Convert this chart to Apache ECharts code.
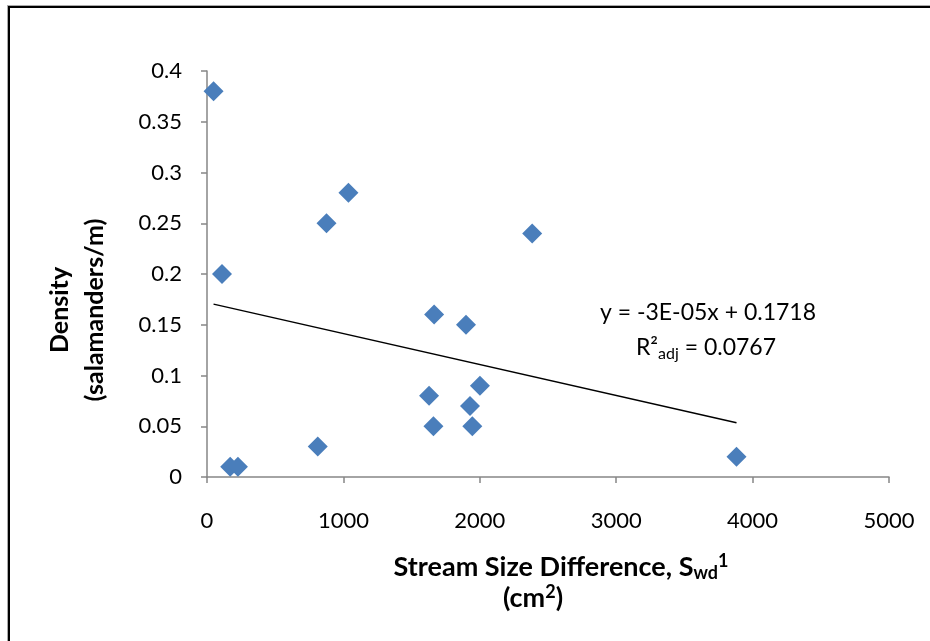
<!DOCTYPE html>
<html>
<head>
<meta charset="utf-8">
<script src="https://cdn.jsdelivr.net/npm/echarts@6/dist/echarts.min.js"></script>
<style>
  body { margin: 0; background: #fff; }
  #frame { position: absolute; left: 8px; top: 6px; width: 940px; height: 660px;
           border-left: 2px solid #000; border-top: 2px solid #000;
           box-shadow: -1px -1px 0 #aaa; }
  #main { position: absolute; left: 0; top: 0; width: 930px; height: 641px; }
</style>
</head>
<body>
<div id="frame"></div>
<div id="main"></div>
<script>
// stream size difference (cm2)
var sizeDiff = [48, 110, 170, 227, 812, 876, 1037, 1628, 1660, 1665, 1899, 1928, 1945, 2001, 2384, 3882];
// density (salamanders/m)
var density  = [0.38, 0.2, 0.01, 0.01, 0.03, 0.25, 0.28, 0.08, 0.05, 0.16, 0.15, 0.07, 0.05, 0.09, 0.24, 0.02];
// trendline
var trendSlope = -0.0000305;
var trendIntercept = 0.1718;
var xTicks = [0, 1000, 2000, 3000, 4000, 5000];
var yTicks = [0, 0.05, 0.1, 0.15, 0.2, 0.25, 0.3, 0.35, 0.4];

var pts = [];
for (var i = 0; i < sizeDiff.length; i++) {
    pts.push([sizeDiff[i], density[i]]);
}
var xMin = Math.min.apply(null, sizeDiff);
var xMax = Math.max.apply(null, sizeDiff);
var trend = [
    [xMin, trendIntercept + trendSlope * xMin],
    [xMax, trendIntercept + trendSlope * xMax]
];

var font = 'Lato, "Open Sans", sans-serif';
var axisGray = '#868686';

var chartDom = document.getElementById('main');
var myChart = echarts.init(chartDom);
var option;
option = {
    animation: false,
    grid: {
        left: 207,
        right: 41,
        top: 71,
        bottom: 164
    },
    xAxis: {
        type: 'value',
        min: xTicks[0],
        max: xTicks[xTicks.length - 1],
        interval: 1000,
        splitLine: { show: false },
        axisLine: { lineStyle: { color: axisGray, width: 1.5 } },
        axisTick: { show: true, length: 6, lineStyle: { color: axisGray, width: 1.5 } },
        axisLabel: {
            color: '#000', fontSize: 22, fontFamily: font, margin: 33,
            formatter: function (v) { return String(v); }
        }
    },
    yAxis: {
        type: 'value',
        min: yTicks[0],
        max: yTicks[yTicks.length - 1],
        interval: 0.05,
        splitLine: { show: false },
        axisLine: { show: true, lineStyle: { color: axisGray, width: 1.5 } },
        axisTick: { show: true, length: 6, lineStyle: { color: axisGray, width: 1.5 } },
        axisLabel: { color: '#000', fontSize: 22, fontFamily: font, margin: 25 }
    },
    graphic: [
        {
            type: 'text',
            x: 77,
            y: 310,
            rotation: Math.PI / 2,
            style: {
                text: 'Density\n(salamanders/m)',
                font: 'bold 25px ' + font,
                fill: '#000',
                textAlign: 'center',
                textVerticalAlign: 'middle',
                lineHeight: 35
            }
        },
        {
            type: 'text',
            x: 561,
            y: 567,
            style: {
                text: '{b|Stream Size Difference, S}{sub|wd}{sup|1}',
                textAlign: 'center',
                textVerticalAlign: 'middle',
                fill: '#000',
                rich: {
                    b: { font: 'bold 27px ' + font, lineHeight: 30 },
                    sub: { font: 'bold 18px ' + font, verticalAlign: 'bottom', padding: [9, 0, 0, 0], lineHeight: 30 },
                    sup: { font: 'bold 18px ' + font, verticalAlign: 'top', padding: [0, 0, 8, 0], lineHeight: 30 }
                }
            }
        },
        {
            type: 'text',
            x: 533,
            y: 598,
            style: {
                text: '{b|(cm}{sup|2}{b|)}',
                textAlign: 'center',
                textVerticalAlign: 'middle',
                fill: '#000',
                rich: {
                    b: { font: 'bold 27px ' + font, lineHeight: 30 },
                    sup: { font: 'bold 18px ' + font, verticalAlign: 'top', padding: [0, 0, 6, 0], lineHeight: 30 }
                }
            }
        },
        {
            type: 'text',
            x: 708,
            y: 313,
            style: {
                text: 'y = -3E-05x + 0.1718',
                font: '23px ' + font,
                fill: '#000',
                textAlign: 'center',
                textVerticalAlign: 'middle'
            }
        },
        {
            type: 'text',
            x: 706,
            y: 348,
            style: {
                text: '{n|R²}{s|adj}{n| = 0.0767}',
                textAlign: 'center',
                textVerticalAlign: 'middle',
                fill: '#000',
                rich: {
                    n: { font: '23px ' + font, lineHeight: 28 },
                    s: { font: '16px ' + font, verticalAlign: 'bottom', padding: [11, 0, 0, 0], lineHeight: 28 }
                }
            }
        }
    ],
    series: [
        {
            name: 'trend',
            type: 'line',
            data: trend,
            symbol: 'none',
            lineStyle: { color: '#000', width: 1.5 },
            silent: true,
            z: 1
        },
        {
            name: 'density',
            type: 'scatter',
            data: pts,
            symbol: 'diamond',
            symbolSize: 20,
            itemStyle: { color: '#4a7ebb', opacity: 1 },
            z: 2
        }
    ]
};
option && myChart.setOption(option);
</script>
</body>
</html>
